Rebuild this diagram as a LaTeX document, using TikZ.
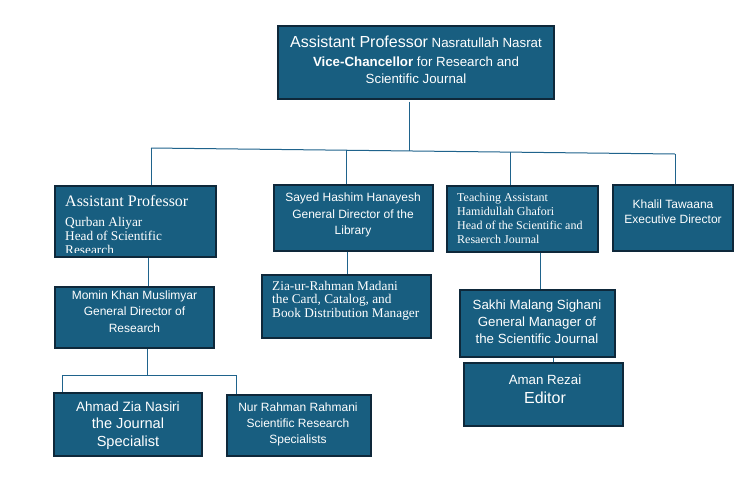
\documentclass[tikz,border=0pt]{standalone}
\usepackage{fontspec}
\setmainfont{Liberation Serif}
\newfontfamily\arialf{Liberation Sans}
\usetikzlibrary{fit}
\definecolor{boxfill}{RGB}{24,94,128}
\definecolor{boxline}{RGB}{14,40,58}
\definecolor{connc}{RGB}{31,99,140}
\newcommand\fs[2]{\fontsize{#1}{#2}\selectfont}
\begin{document}
\begin{tikzpicture}[x=1pt,y=-1pt,
  orgbox/.style={draw=boxline, fill=boxfill, line width=1.2pt, inner sep=0pt},
  txt/.style={text=white, inner sep=0pt, align=center},
  conn/.style={draw=connc, line width=1pt}]
\fill[white] (0,0) rectangle (744,485);
\useasboundingbox (0,0) rectangle (744,485);

% boxes
\node[orgbox, fit={(278,26)(554,99)}] (vc) {};
\node[orgbox, fit={(55,186)(216,257)}] (hsr) {};
\node[orgbox, fit={(274,185)(433,251)}] (lib) {};
\node[orgbox, fit={(447,186)(598,252)}] (hsj) {};
\node[orgbox, fit={(613,185)(733,251)}] (exd) {};
\node[orgbox, fit={(55,287)(214,348)}] (gdr) {};
\node[orgbox, fit={(262,275)(431,338)}] (card) {};
\node[orgbox, fit={(460,290)(615,357)}] (gmj) {};
\node[orgbox, fit={(464,363)(623,426)}] (edt) {};
\node[orgbox, fit={(54,393)(202,456)}] (jsp) {};
\node[orgbox, fit={(227,395)(371,456)}] (srs) {};

% connector points
\coordinate (j0) at (409,151);
\coordinate (c1) at (151,148);
\coordinate (c2) at (346,150.2);
\coordinate (c3) at (510,152.1);
\coordinate (c4) at (675,154);
\coordinate (k1) at (148,270);
\coordinate (k2) at (347,260);
\coordinate (k3) at (540,270);
\coordinate (k4) at (553,360);
\coordinate (m0) at (147,375);
\coordinate (m1) at (62,375);
\coordinate (m2) at (236,375);

% connectors
\draw[conn] ([yshift=-2pt]vc.south -| j0) -- (j0);
\draw[conn] (c1) -- (c4);
\draw[conn] (c1) -- (hsr.north -| c1);
\draw[conn] (c2) -- (lib.north -| c2);
\draw[conn] (c3) -- (hsj.north -| c3);
\draw[conn] (c4) -- (exd.north -| c4);
\draw[conn] (hsr.south -| k1) -- (gdr.north -| k1);
\draw[conn] (gdr.south -| m0) -- (m0);
\draw[conn] (m1) -- (m2);
\draw[conn] (m1) -- (jsp.north -| m1);
\draw[conn] (m2) -- (srs.north -| m2);
\draw[conn] (lib.south -| k2) -- (card.north -| k2);
\draw[conn] (hsj.south -| k3) -- (gmj.north -| k3);
\draw[conn] (gmj.south -| k4) -- (edt.north -| k4);

% texts
\node[txt, anchor=north, font=\arialf\fs{13.3}{17}] (vct) at (416,36)
  {{\fs{16}{17}Assistant Professor} Nasratullah Nasrat\\[2pt]
   \textbf{Vice-Chancellor} for Research and\\ Scientific Journal};
\begin{scope}
\clip (hsr.north west) rectangle ([yshift=5pt]hsr.south east);
\node[txt, anchor=north west, align=left, font=\fs{13.3}{14.2}] (hsrt) at (65,195)
  {{\fs{16}{17}Assistant Professor}\\[5.5pt] Qurban Aliyar\\ Head of Scientific\\ Research};
\end{scope}
\node[txt, anchor=north, font=\arialf\fs{12}{16.5}] (libt) at (353,193)
  {Sayed Hashim Hanayesh\\ General Director of the\\ Library};
\node[txt, anchor=north west, align=left, font=\fs{12}{14}] (hsjt) at (457,192.5)
  {Teaching Assistant\\ Hamidullah Ghafori\\ Head of the Scientific and\\ Resaerch Journal};
\node[txt, anchor=north, font=\arialf\fs{12}{15.5}] (exdt) at (673,199.4)
  {Khalil Tawaana\\ Executive Director};
\node[txt, anchor=north, font=\arialf\fs{12}{16.5}] (gdrt) at (134.5,290.4)
  {Momin Khan Muslimyar\\ General Director of\\ Research};
\node[txt, anchor=north west, align=left, font=\fs{13.3}{13.5}] (cardt) at (272,281)
  {Zia-ur-Rahman Madani\\ the Card, Catalog, and\\ Book Distribution Manager};
\node[txt, anchor=north, font=\arialf\fs{13.3}{17}] (gmjt) at (537,299.3)
  {Sakhi Malang Sighani\\ General Manager of\\ the Scientific Journal};
\node[txt, anchor=north, font=\arialf\fs{13.3}{19.2}] (edtt) at (545,374.3)
  {Aman Rezai\\ {\fs{16}{19.2}Editor}};
\node[txt, anchor=north, font=\arialf\fs{14.6}{18}] (jspt) at (128,402)
  {{\fs{13.5}{18}Ahmad Zia Nasiri}\\[-1pt] the Journal\\ Specialist};
\node[txt, anchor=north, font=\arialf\fs{12}{16}] (srst) at (298,402.7)
  {Nur Rahman Rahmani\\ Scientific Research\\ Specialists};
\end{tikzpicture}
\end{document}
